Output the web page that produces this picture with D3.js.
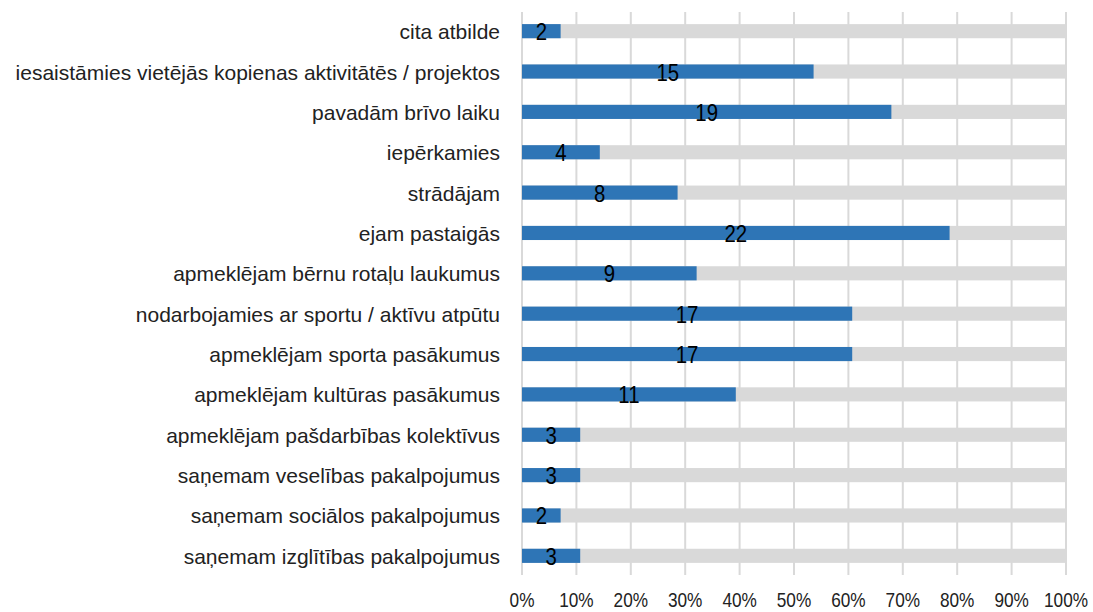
<!DOCTYPE html>
<html>
<head>
<meta charset="utf-8">
<script src="https://cdn.jsdelivr.net/npm/d3@7"></script>
<style>
  body { margin: 0; background: #fff; }
  svg text { font-family: "Liberation Sans", Arial, sans-serif; }
</style>
</head>
<body>
<div id="chart"></div>
<script>
// categories top to bottom
const categories = [
    "cita atbilde",
    "iesaistāmies vietējās kopienas aktivitātēs / projektos",
    "pavadām brīvo laiku",
    "iepērkamies",
    "strādājam",
    "ejam pastaigās",
    "apmeklējam bērnu rotaļu laukumus",
    "nodarbojamies ar sportu / aktīvu atpūtu",
    "apmeklējam sporta pasākumus",
    "apmeklējam kultūras pasākumus",
    "apmeklējam pašdarbības kolektīvus",
    "saņemam veselības pakalpojumus",
    "saņemam sociālos pakalpojumus",
    "saņemam izglītības pakalpojumus"
];
// number of answers (label shown on bar)
const counts = [2, 15, 19, 4, 8, 22, 9, 17, 17, 11, 3, 3, 2, 3];
// share of respondents, %
const shares = [7.1, 53.6, 67.9, 14.3, 28.6, 78.6, 32.1, 60.7, 60.7, 39.3, 10.7, 10.7, 7.1, 10.7];
const ticks = [0, 10, 20, 30, 40, 50, 60, 70, 80, 90, 100];

const data = categories.map((c, i) => ({ name: c, count: counts[i], share: shares[i] }));

const width = 1093, height = 612;
const margin = { top: 12, right: 27, bottom: 37, left: 522 };
const innerW = width - margin.left - margin.right;
const innerH = height - margin.top - margin.bottom;

const svg = d3.select("#chart").append("svg")
    .attr("width", width)
    .attr("height", height);

const g = svg.append("g")
    .attr("transform", `translate(${margin.left},${margin.top})`);

const x = d3.scaleLinear().domain([0, 100]).range([0, innerW]);
const y = d3.scaleBand().domain(categories).range([0, innerH]).paddingInner(0.65).paddingOuter(0.3);

// gridlines
g.selectAll(".grid")
    .data(ticks)
    .enter()
    .append("line")
    .attr("x1", d => x(d))
    .attr("x2", d => x(d))
    .attr("y1", 0)
    .attr("y2", innerH)
    .attr("stroke", "#d9d9d9")
    .attr("stroke-width", 2);

// grey background bars (100%)
g.selectAll(".bg")
    .data(data)
    .enter()
    .append("rect")
    .attr("x", x(0))
    .attr("y", d => y(d.name))
    .attr("width", x(100) - x(0))
    .attr("height", y.bandwidth())
    .attr("fill", "#d9d9d9");

// blue bars
g.selectAll(".bar")
    .data(data)
    .enter()
    .append("rect")
    .attr("x", x(0))
    .attr("y", d => y(d.name))
    .attr("width", d => x(d.share) - x(0))
    .attr("height", y.bandwidth())
    .attr("fill", "#2e75b6");

// count labels (condensed look of the original font)
g.selectAll(".val")
    .data(data)
    .enter()
    .append("text")
    .attr("transform", d => `translate(${x(d.share / 2)},${y(d.name) + y.bandwidth() / 2 + 9}) scale(0.85,1)`)
    .attr("text-anchor", "middle")
    .style("font-size", "24px")
    .attr("fill", "#000")
    .text(d => d.count);

// category labels
g.selectAll(".cat")
    .data(data)
    .enter()
    .append("text")
    .attr("x", -22)
    .attr("y", d => y(d.name) + y.bandwidth() / 2 + 8)
    .attr("text-anchor", "end")
    .style("font-size", "21px")
    .attr("fill", "#222")
    .text(d => d.name);

// x axis tick labels
g.selectAll(".tick-lbl")
    .data(ticks)
    .enter()
    .append("text")
    .attr("transform", d => `translate(${x(d)},${innerH + 32}) scale(0.82,1)`)
    .attr("text-anchor", "middle")
    .style("font-size", "21px")
    .attr("fill", "#222")
    .text(d => d + "%");
</script>
</body>
</html>
